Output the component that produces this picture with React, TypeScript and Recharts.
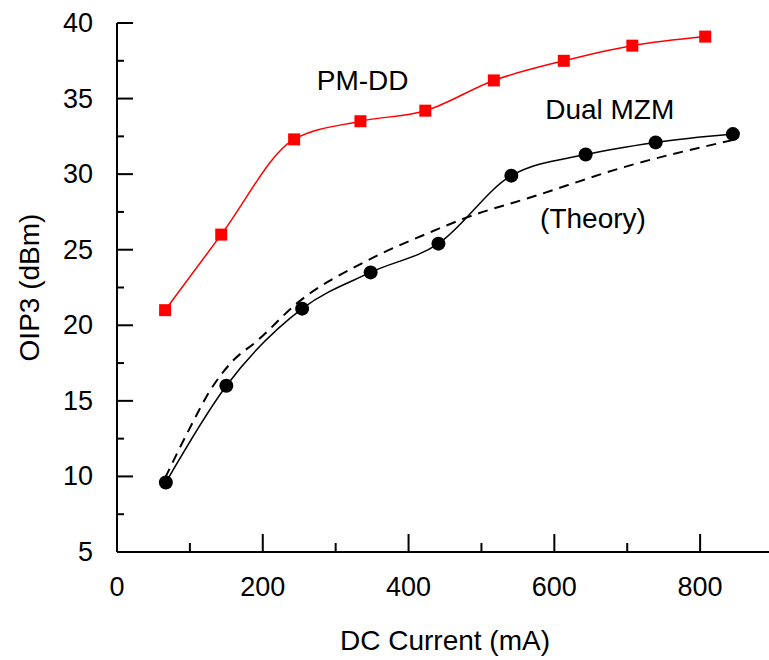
import { LineChart, Line, XAxis, YAxis, ReferenceDot, Label } from "recharts";

// PM-DD measured (red squares)
const pmCurrent = [66, 143, 243, 334, 423, 517, 613, 707, 807];
const pmOip3 = [21.0, 26.0, 32.3, 33.5, 34.2, 36.2, 37.5, 38.5, 39.1];

// Dual MZM measured (black circles)
const mzmCurrent = [67, 150, 254, 348, 441, 541, 643, 739, 845];
const mzmOip3 = [9.6, 16.0, 21.1, 23.5, 25.4, 29.9, 31.3, 32.1, 32.65];

// Dual MZM theory (dashed)
const theoryCurrent = [66, 101, 128, 156, 193, 248, 340, 432, 478, 570, 698, 849];
const theoryOip3 = [9.9, 13.3, 15.7, 17.5, 19.0, 21.5, 24.2, 26.2, 27.1, 28.5, 30.5, 32.3];

const xTicks = [0, 100, 200, 300, 400, 500, 600, 700, 800];
const xLabels = [0, 200, 400, 600, 800];
const yTicks = [5, 7.5, 10, 12.5, 15, 17.5, 20, 22.5, 25, 27.5, 30, 32.5, 35, 37.5, 40];
const yLabels = [5, 10, 15, 20, 25, 30, 35, 40];

const pmData = pmCurrent.map((x, i) => ({ x, y: pmOip3[i] }));
const mzmData = mzmCurrent.map((x, i) => ({ x, y: mzmOip3[i] }));
const theoryData = theoryCurrent.map((x, i) => ({ x, y: theoryOip3[i] }));

type Side = "bottom" | "top" | "left" | "right";

function AxisTick(props: any) {
  const { x, y, payload, side, labels } = props as { x: number; y: number; payload: any; side: Side; labels: number[] };
  const v = payload.value;
  const major = labels.includes(v);
  const horiz = side === "bottom" || side === "top";
  const len = horiz ? (major ? 18 : 9) : major ? 16 : 7;
  let x2 = x;
  let y2 = y;
  if (side === "bottom") y2 = y - len;
  if (side === "top") y2 = y + len;
  if (side === "left") x2 = x + len;
  if (side === "right") x2 = x - len;
  return (
    <g>
      <line x1={x} y1={y} x2={x2} y2={y2} stroke="#000" strokeWidth={2} />
      {major && side === "bottom" && (
        <text x={x} y={y + 35} textAnchor="middle" dominantBaseline="central" fontSize={27} fill="#000">
          {v}
        </text>
      )}
      {major && side === "left" && (
        <text x={x - 24} y={y} textAnchor="end" dominantBaseline="central" fontSize={27} fill="#000">
          {v}
        </text>
      )}
    </g>
  );
}

const Square = (p: any) => (
  <rect key={`sq-${p.index}`} x={p.cx - 6} y={p.cy - 6} width={12} height={12} fill="#ff0000" />
);
const Circle = (p: any) => <circle key={`ci-${p.index}`} cx={p.cx} cy={p.cy} r={7} fill="#000" />;

const note = (value: string) => ({ value, position: "center" as const, fontSize: 28, fill: "#000" });

export default function App() {
  return (
    <div style={{ position: "absolute", left: 0, top: 0, fontFamily: "'Liberation Sans', Arial, sans-serif" }}>
      <LineChart width={769} height={660} margin={{ top: 23, right: -4, bottom: 0, left: 0 }}>
        <XAxis
          xAxisId="b"
          type="number"
          dataKey="x"
          domain={[0, 900]}
          ticks={xTicks}
          orientation="bottom"
          height={108}
          axisLine={{ stroke: "#000", strokeWidth: 2 }}
          tickLine={false}
          tickSize={0}
          tickMargin={0}
          interval={0}
          tick={(p: any) => <AxisTick {...p} side="bottom" labels={xLabels} />}
        >
          <Label value="DC Current (mA)" position="insideBottom" offset={10} fontSize={28} fill="#000" />
        </XAxis>
        <XAxis
          xAxisId="t"
          type="number"
          dataKey="x"
          domain={[0, 900]}
          ticks={xTicks}
          orientation="top"
          height={0}
          axisLine={{ stroke: "#000", strokeWidth: 2 }}
          tickLine={false}
          tickSize={0}
          tickMargin={0}
          interval={0}
          tick={(p: any) => <AxisTick {...p} side="top" labels={xLabels} />}
        />
        <YAxis
          yAxisId="l"
          type="number"
          domain={[5, 40]}
          ticks={yTicks}
          orientation="left"
          width={117}
          axisLine={{ stroke: "#000", strokeWidth: 2 }}
          tickLine={false}
          tickSize={0}
          tickMargin={0}
          interval={0}
          tick={(p: any) => <AxisTick {...p} side="left" labels={yLabels} />}
        >
          <Label
            content={({ viewBox }: any) => {
              const cx = viewBox.x + 29;
              const cy = viewBox.y + viewBox.height / 2;
              return (
                <text
                  x={cx}
                  y={cy}
                  transform={`rotate(-90 ${cx} ${cy})`}
                  textAnchor="middle"
                  dominantBaseline="central"
                  fontSize={28}
                  fill="#000"
                >
                  OIP3 (dBm)
                </text>
              );
            }}
          />
        </YAxis>
        <YAxis
          yAxisId="r"
          type="number"
          domain={[5, 40]}
          ticks={yTicks}
          orientation="right"
          width={0}
          axisLine={{ stroke: "#000", strokeWidth: 2 }}
          tickLine={false}
          tickSize={0}
          tickMargin={0}
          interval={0}
          tick={(p: any) => <AxisTick {...p} side="right" labels={yLabels} />}
        />
        <Line
          xAxisId="b"
          yAxisId="l"
          data={theoryData}
          dataKey="y"
          type="monotone"
          stroke="#000"
          strokeWidth={2}
          strokeDasharray="10 7"
          dot={false}
          isAnimationActive={false}
        />
        <Line
          xAxisId="b"
          yAxisId="l"
          data={mzmData}
          dataKey="y"
          type="monotone"
          stroke="#000"
          strokeWidth={1.5}
          dot={Circle}
          isAnimationActive={false}
        />
        <Line
          xAxisId="b"
          yAxisId="l"
          data={pmData}
          dataKey="y"
          type="monotone"
          stroke="#ff0000"
          strokeWidth={1.5}
          dot={Square}
          isAnimationActive={false}
        />
        <ReferenceDot xAxisId="b" yAxisId="l" x={337} y={36.2} r={1} fill="none" stroke="none" label={note("PM-DD")} />
        <ReferenceDot xAxisId="b" yAxisId="l" x={676} y={34.3} r={1} fill="none" stroke="none" label={note("Dual MZM")} />
        <ReferenceDot xAxisId="b" yAxisId="l" x={653} y={27.1} r={1} fill="none" stroke="none" label={note("(Theory)")} />
      </LineChart>
    </div>
  );
}
